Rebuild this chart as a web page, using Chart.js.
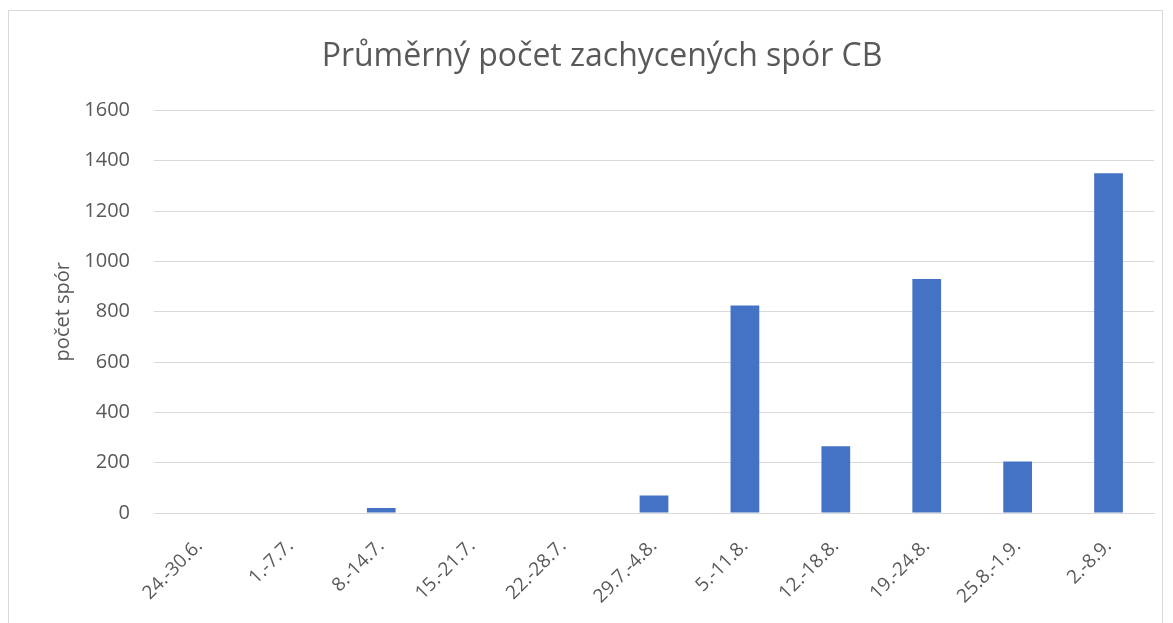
<!DOCTYPE html>
<html>
<head>
<meta charset="utf-8">
<script src="https://cdn.jsdelivr.net/npm/chart.js@4"></script>
<style>
  html, body { margin: 0; padding: 0; background: #ffffff; }
  #wrap { position: relative; width: 1173px; height: 623px; overflow: hidden; }
  #frame {
    position: absolute; left: 8px; top: 10px; width: 1155px; height: 660px;
    border: 1px solid #d9d9d9; box-sizing: border-box;
  }
  #sporChart { position: absolute; left: 0; top: 0; }
</style>
</head>
<body>
<div id="wrap">
  <div id="frame"></div>
  <canvas id="sporChart" width="1173" height="623"></canvas>
</div>
<script>
// data
const weeks = [
  "24.-30.6.", "1.-7.7.", "8.-14.7.", "15.-21.7.", "22.-28.7.",
  "29.7.-4.8.", "5.-11.8.", "12.-18.8.", "19.-24.8.", "25.8.-1.9.", "2.-8.9."
];
const sporeCounts = [0, 0, 20, 0, 0, 70, 825, 265, 930, 205, 1350];
const yTicks = [0, 200, 400, 600, 800, 1000, 1200, 1400, 1600];

const textColor = "#595959";
const fontFamily = "'Open Sans', 'Liberation Sans', sans-serif";

const ctx = document.getElementById("sporChart").getContext("2d");

new Chart(ctx, {
  type: "bar",
  data: {
    labels: weeks,
    datasets: [
      {
        label: "počet spór",
        data: sporeCounts,
        backgroundColor: "#4472c4",
        borderWidth: 0,
        categoryPercentage: 1.0,
        barPercentage: 0.316,
      },
    ],
  },
  options: {
    responsive: false,
    animation: false,
    layout: { padding: { left: 50, right: 19, top: 0, bottom: 0 } },
    plugins: {
      legend: { display: false },
      tooltip: { enabled: false },
      title: {
        display: true,
        text: "Průměrný počet zachycených spór CB",
        color: textColor,
        font: { family: fontFamily, size: 32, weight: "normal" },
        padding: { top: 38, bottom: 34 },
      },
    },
    scales: {
      x: {
        grid: { display: false, drawTicks: false },
        border: { display: true, color: "#d9d9d9", width: 1 },
        ticks: {
          color: textColor,
          font: { family: fontFamily, size: 19 },
          maxRotation: 45,
          minRotation: 45,
          padding: 22,
          autoSkip: false,
        },
        afterFit: (scale) => {
          scale.height = 110;
        },
      },
      y: {
        min: 0,
        max: 1600,
        afterBuildTicks: (scale) => {
          scale.ticks = yTicks.map((v) => ({ value: v }));
        },
        grid: { color: "#d9d9d9", drawTicks: false },
        border: { display: false },
        ticks: {
          color: textColor,
          font: { family: fontFamily, size: 20 },
          padding: 24,
          callback: (value) => String(value),
        },
        title: {
          display: true,
          text: "počet spór",
          color: textColor,
          font: { family: fontFamily, size: 20 },
          padding: { top: 1, bottom: 0 },
        },
        afterFit: (scale) => {
          scale.width = 104;
        },
      },
    },
  },
});
</script>
</body>
</html>
